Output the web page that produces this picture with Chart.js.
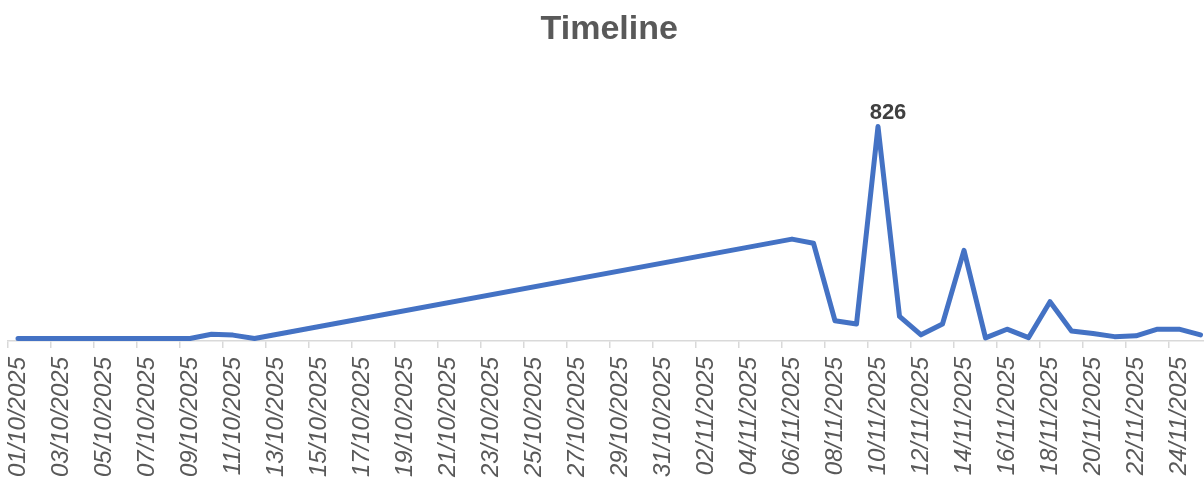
<!DOCTYPE html>
<html>
<head>
<meta charset="utf-8">
<script src="https://cdn.jsdelivr.net/npm/chart.js@4.4.1/dist/chart.umd.min.js"></script>
<style>
  html, body { margin: 0; padding: 0; overflow: hidden; background: #fff; }
  #chart { display: block; }
</style>
</head>
<body>
<canvas id="chart" width="1218" height="488"></canvas>
<script>
const dates = [
    "01/10/2025","02/10/2025","03/10/2025","04/10/2025","05/10/2025","06/10/2025","07/10/2025",
    "08/10/2025","09/10/2025","10/10/2025","11/10/2025","12/10/2025","13/10/2025","14/10/2025",
    "15/10/2025","16/10/2025","17/10/2025","18/10/2025","19/10/2025","20/10/2025","21/10/2025",
    "22/10/2025","23/10/2025","24/10/2025","25/10/2025","26/10/2025","27/10/2025","28/10/2025",
    "29/10/2025","30/10/2025","31/10/2025","01/11/2025","02/11/2025","03/11/2025","04/11/2025",
    "05/11/2025","06/11/2025","07/11/2025","08/11/2025","09/11/2025","10/11/2025","11/11/2025",
    "12/11/2025","13/11/2025","14/11/2025","15/11/2025","16/11/2025","17/11/2025","18/11/2025",
    "19/11/2025","20/11/2025","21/11/2025","22/11/2025","23/11/2025","24/11/2025","25/11/2025"
];

// null = no entry for that day (the line just spans over it)
const octValues = [0, 0, 0, 0, 0, 0, 0, 0, 0, 16, 13, 0];
const gapValues = [null, null, null, null, null, null, null, null, null, null, null, null,
                   null, null, null, null, null, null, null, null, null, null, null, null];
const novValues = [387, 371, 69, 56, 826, 86, 14, 56, 343, 2, 36, 3, 143, 29, 19, 7, 10, 36, 36, 14];
const values = octValues.concat(gapValues, novValues);

const labelled = ["10/11/2025"];

const peakLabel = {
    id: "peakLabel",
    afterDatasetsDraw(chart){
        const ctx = chart.ctx;
        const meta = chart.getDatasetMeta(0);
        ctx.save();
        ctx.font = "bold 22px 'Liberation Sans'";
        ctx.fillStyle = "#404040";
        ctx.textAlign = "center";
        ctx.textBaseline = "middle";
        labelled.forEach(d=>{
            let i = dates.indexOf(d);
            let pt = meta.data[i];
            ctx.fillText(String(values[i]), pt.x + 10, pt.y - 14);
        });
        ctx.restore();
    }
};

new Chart(document.getElementById("chart"), {
    type: "line",
    data: {
        labels: dates,
        datasets: [{
            data: values,
            borderColor: "#4472C4",
            borderWidth: 5,
            borderCapStyle: "round",
            borderJoinStyle: "round",
            pointRadius: 0,
            pointHoverRadius: 0,
            tension: 0,
            spanGaps: true,
            fill: false,
            clip: false
        }]
    },
    options: {
        responsive: false,
        animation: false,
        events: [],
        layout: { padding: { left: 7.25, right: 6.75, top: 0, bottom: 0 } },
        plugins: {
            legend: { display: false },
            tooltip: { enabled: false },
            title: {
                display: true,
                text: "Timeline",
                color: "#595959",
                font: { family: "'Liberation Sans'", size: 34, weight: "bold", lineHeight: 1.2 },
                padding: { top: 9, bottom: 32 }
            }
        },
        scales: {
            x: {
                offset: true,
                afterFit: s=>{
                    s.height = 147;
                    s.paddingLeft = 0;
                    s.paddingRight = 0;
                },
                border: { color: "#d9d9d9", width: 1.5 },
                grid: {
                    offset: true,
                    drawOnChartArea: false,
                    drawTicks: true,
                    tickLength: 7,
                    lineWidth: 1.5,
                    color: c=> c.index % 2 === 0 ? "#d9d9d9" : "rgba(0,0,0,0)"
                },
                ticks: {
                    autoSkip: false,
                    minRotation: 90,
                    maxRotation: 90,
                    padding: 9,
                    color: "#595959",
                    font: { family: "'Liberation Sans'", size: 24, style: "italic" },
                    callback: (v, i)=> i % 2 === 0 ? dates[i] : ""
                }
            },
            y: {
                display: false,
                min: -10,
                max: 1000
            }
        }
    },
    plugins: [peakLabel]
});
</script>
</body>
</html>
